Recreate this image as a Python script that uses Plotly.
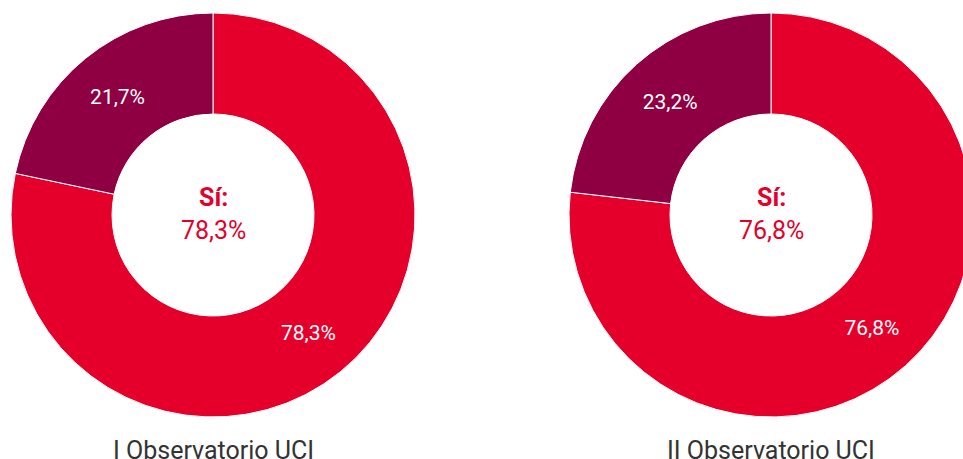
import plotly.graph_objects as go

categories = ["Sí", "No"]
titles = ["I Observatorio UCI", "II Observatorio UCI"]
values_1 = [78.3, 21.7]
values_2 = [76.8, 23.2]
colors = ["#E4002B", "#8E0042"]

W, H = 973, 459
fig = go.Figure()

domains = [
    dict(x=[11 / W, 415 / W], y=[(H - 417) / H, (H - 13) / H]),
    dict(x=[569 / W, 1.0], y=[(H - 417) / H, (H - 13) / H]),
]
centers_px = [213, 771]

for vals, dom, title, cx in zip([values_1, values_2], domains, titles, centers_px):
    fig.add_trace(go.Pie(
        labels=categories,
        values=vals,
        hole=0.5,
        sort=False,
        direction="clockwise",
        rotation=0,
        domain=dom,
        marker=dict(colors=colors, line=dict(color="white", width=1)),
        texttemplate="%{value:.1f}%",
        textposition="inside",
        insidetextorientation="horizontal",
        textfont=dict(family="Roboto", size=21, color="white"),
        hoverinfo="label+value",
        showlegend=False,
    ))
    sval = f"{vals[0]:.1f}".replace(".", ",")
    fig.add_annotation(
        x=cx / W, y=(H - 214) / H, xref="paper", yref="paper",
        text=f"<b>{categories[0]}:</b><br>{sval}%",
        showarrow=False, xanchor="center", yanchor="middle",
        font=dict(family="Roboto", size=25, color=colors[0]),
    )
    fig.add_annotation(
        x=cx / W, y=(H - 450) / H, xref="paper", yref="paper",
        text=title, showarrow=False, xanchor="center", yanchor="middle",
        font=dict(family="Roboto", size=25, color="#333333"),
    )

fig.update_layout(
    width=W, height=H, autosize=False,
    margin=dict(l=0, r=0, t=0, b=0),
    paper_bgcolor="white", plot_bgcolor="white",
    separators=",.",
)

fig.write_html(
    "out.html",
    config={"displayModeBar": False},
    post_script="document.body.style.overflow='hidden';document.body.style.margin='0';",
)
